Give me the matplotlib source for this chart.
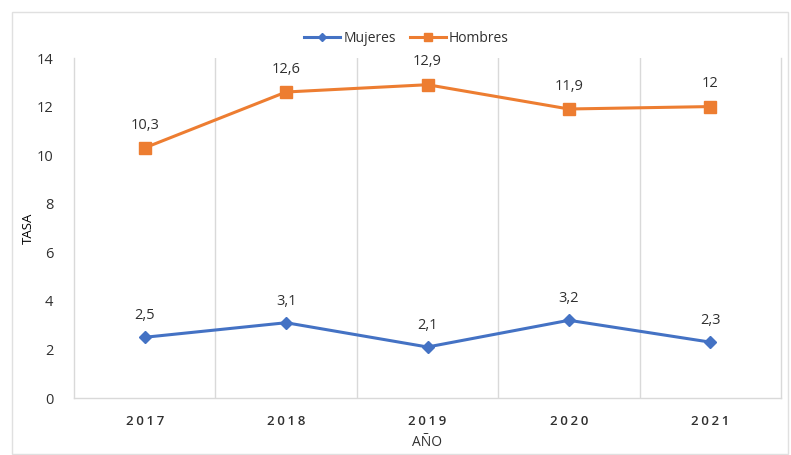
import numpy as np
import matplotlib.pyplot as plt
from matplotlib.patches import Rectangle

anios = ['2017', '2018', '2019', '2020', '2021']
mujeres = [2.5, 3.1, 2.1, 3.2, 2.3]
hombres = [10.3, 12.6, 12.9, 11.9, 12.0]
etq_mujeres = ['2,5', '3,1', '2,1', '3,2', '2,3']
etq_hombres = ['10,3', '12,6', '12,9', '11,9', '12']

azul = '#4472C4'
naranja = '#ED7D31'
texto = '#303030'

plt.rcParams['font.family'] = ['Open Sans', 'DejaVu Sans']

fig = plt.figure(figsize=(7.91, 4.55), dpi=100)
ax = fig.add_axes([74 / 791, 1 - 398 / 455, (781 - 74) / 791, (398 - 58) / 455])

x = np.arange(len(anios))
ax.plot(x, mujeres, color=azul, lw=2.2, marker='D', ms=6, label='Mujeres')
ax.plot(x, hombres, color=naranja, lw=2.2, marker='s', ms=8, label='Hombres')

for xi, v, t in zip(x, mujeres, etq_mujeres):
    ax.annotate(t, (xi, v), xytext=(0, 10), textcoords='offset points',
                ha='center', va='bottom', fontsize=10.5, color=texto)
for xi, v, t in zip(x, hombres, etq_hombres):
    ax.annotate(t, (xi, v), xytext=(0, 11), textcoords='offset points',
                ha='center', va='bottom', fontsize=10.5, color=texto)

ax.set_xlim(-0.5, len(anios) - 0.5)
ax.set_ylim(0, 14)
ax.set_yticks(np.arange(0, 15, 2))
ax.set_xticks(x)
ax.set_xticklabels(['\u2009'.join(a) for a in anios], fontsize=9.5,
                   color=texto, fontweight='semibold')
ax.tick_params(axis='y', labelsize=10.5, colors=texto, length=0, pad=15)
ax.tick_params(axis='x', length=0, pad=12)

# lineas verticales entre categorias
for b in np.arange(0.5, len(anios) - 1, 1.0):
    ax.axvline(b, color='#d9d9d9', lw=1, zorder=0)
ax.spines['top'].set_visible(False)
for s in ['left', 'right', 'bottom']:
    ax.spines[s].set_color('#d9d9d9')
    ax.spines[s].set_linewidth(1)

ax.set_ylabel('TASA', fontsize=9.5, color='black', labelpad=1)
ax.set_xlabel('AÑO', fontsize=10, color=texto, labelpad=5)

ax.legend(loc='lower center', bbox_to_anchor=(0.47, 1.0), ncol=2, frameon=False,
          fontsize=10, handlelength=2.6, columnspacing=1.0, handletextpad=0.2,
          labelcolor=texto, markerscale=0.75)

fig.patches.append(Rectangle((12 / 791, 0.003), 776 / 791, 1 - 12 / 455 - 0.003,
                             transform=fig.transFigure, fill=False,
                             edgecolor='#e0e0e0', lw=1))

fig.savefig('out.png', dpi=100)
